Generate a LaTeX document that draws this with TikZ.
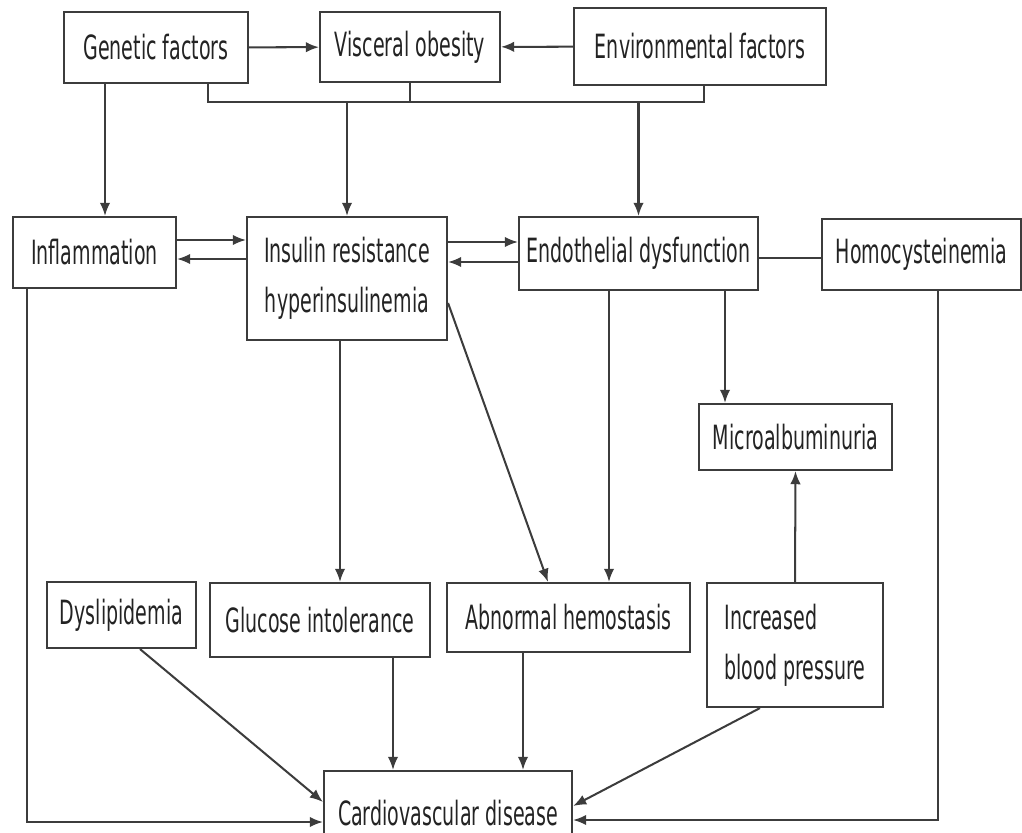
\documentclass[tikz,border=0pt]{standalone}
\usepackage{fontspec}
\setmainfont{DejaVu Sans}[FakeStretch=0.57]
\usetikzlibrary{arrows.meta, positioning, calc}
\definecolor{line_gray}{RGB}{60, 60, 60}
\definecolor{text_gray}{RGB}{35, 35, 35}

\begin{document}
\begin{tikzpicture}[
    box/.style={
        rectangle,
        draw=line_gray,
        line width=1.2pt,
        fill=white,
        text=text_gray,
        inner sep=0pt,
        align=center,
        font=\fontsize{19pt}{28.5pt}\selectfont
    },
    link/.style={
        draw=line_gray,
        line width=1.15pt
    },
    arrow/.style={
        link,
        -{Latex[length=7.5pt, width=6pt]}
    }
]
\useasboundingbox (0,0) rectangle (20.44,-16.66);
\clip (0,0) rectangle (20.44,-16.66);

% Top row
\node[box, minimum width=3.68cm, minimum height=1.42cm] (gen) at (3.12,-0.95) {Genetic factors};
\node[box, minimum width=3.6cm, minimum height=1.4cm] (vis) at (8.2,-0.94) {Visceral obesity};
\node[box, minimum width=5.04cm, minimum height=1.54cm] (env) at (14.0,-0.93) {Environmental factors};

% Middle row
\node[box, minimum width=3.26cm, minimum height=1.42cm] (infl) at (1.89,-5.05) {Inflammation};
\node[box, minimum width=4cm, minimum height=2.46cm] (ins) at (6.94,-5.57) {Insulin resistance\\hyperinsulinemia};
\node[box, minimum width=4.78cm, minimum height=1.46cm] (endo) at (12.77,-5.07) {Endothelial dysfunction};
\node[box, minimum width=3.98cm, minimum height=1.42cm] (homo) at (18.43,-5.09) {Homocysteinemia};
\node[box, minimum width=3.86cm, minimum height=1.32cm] (micro) at (15.91,-8.74) {Microalbuminuria};

% Bottom row
\node[box, minimum width=2.98cm, minimum height=1.32cm] (dys) at (2.43,-12.3) {Dyslipidemia};
\node[box, minimum width=4.4cm, minimum height=1.48cm] (glu) at (6.4,-12.4) {Glucose intolerance};
\node[box, minimum width=4.86cm, minimum height=1.38cm] (abn) at (11.37,-12.35) {Abnormal hemostasis};
\node[box, minimum width=3.52cm, minimum height=2.48cm, align=left] (ibp) at (15.9,-12.9) {Increased\\blood pressure};
\node[box, minimum width=4.96cm, minimum height=1.68cm] (cvd) at (8.96,-16.26) {Cardiovascular disease};

% Bus below the top row
\coordinate (busL) at (4.16,-2.04);
\coordinate (busR) at (14.08,-2.04);
\draw[link] (busL |- gen.south) -- (busL) -- (busR) -- (busR |- env.south);
\draw[link] (vis.south) -- (vis.south |- busL);
\draw[arrow] (ins.north |- busL) -- (ins.north);
\draw[arrow] (endo.north |- busL) -- (endo.north);

% Top row arrows
\draw[arrow] (gen) -- (vis);
\draw[arrow] (env) -- (vis);
\draw[arrow] ([xshift=-1.02cm]gen.south) -- ([xshift=-1.02cm]gen.south |- infl.north);

% Middle row arrows
\draw[arrow] ([yshift=0.25cm]infl.east) -- ([yshift=0.25cm]infl.east -| ins.west);
\draw[arrow] ([yshift=-0.13cm]infl.east -| ins.west) -- ([yshift=-0.13cm]infl.east);
\draw[arrow] ([yshift=0.23cm]endo.west -| ins.east) -- ([yshift=0.23cm]endo.west);
\draw[arrow] ([yshift=-0.17cm]endo.west) -- ([yshift=-0.17cm]endo.west -| ins.east);
\draw[link, line width=1.6pt] ([yshift=-0.09cm]endo.east) -- ([yshift=-0.09cm]endo.east -| homo.west);

% Downward arrows
\draw[arrow] ([xshift=1.73cm]endo.south) -- ([xshift=1.73cm]endo.south |- micro.north);
\draw[arrow] ([xshift=-0.59cm]endo.south) -- ([xshift=-0.59cm]endo.south |- abn.north);
\draw[arrow] ([xshift=-0.14cm]ins.south) -- ([xshift=-0.14cm]ins.south |- glu.north);
\draw[arrow] ([yshift=-0.49cm]ins.east) -- ([xshift=-0.41cm]abn.north);
\draw[arrow] (ibp.north) -- (micro.south);

% Into cardiovascular disease
\draw[arrow] ([xshift=0.37cm]dys.south) -- ([yshift=0.22cm]cvd.west);
\draw[arrow] ([xshift=1.46cm]glu.south) -- ([xshift=1.46cm]glu.south |- cvd.north);
\draw[arrow] ([xshift=-0.91cm]abn.south) -- ([xshift=-0.91cm]abn.south |- cvd.north);
\draw[arrow] ([xshift=-0.7cm]ibp.south) -- ([yshift=0.14cm]cvd.east);
\draw[arrow] ([xshift=0.33cm]homo.south) |- ([yshift=-0.14cm]cvd.east);
\draw[arrow] ([xshift=-1.35cm]infl.south) |- ([yshift=-0.18cm]cvd.west);

\end{tikzpicture}
\end{document}
